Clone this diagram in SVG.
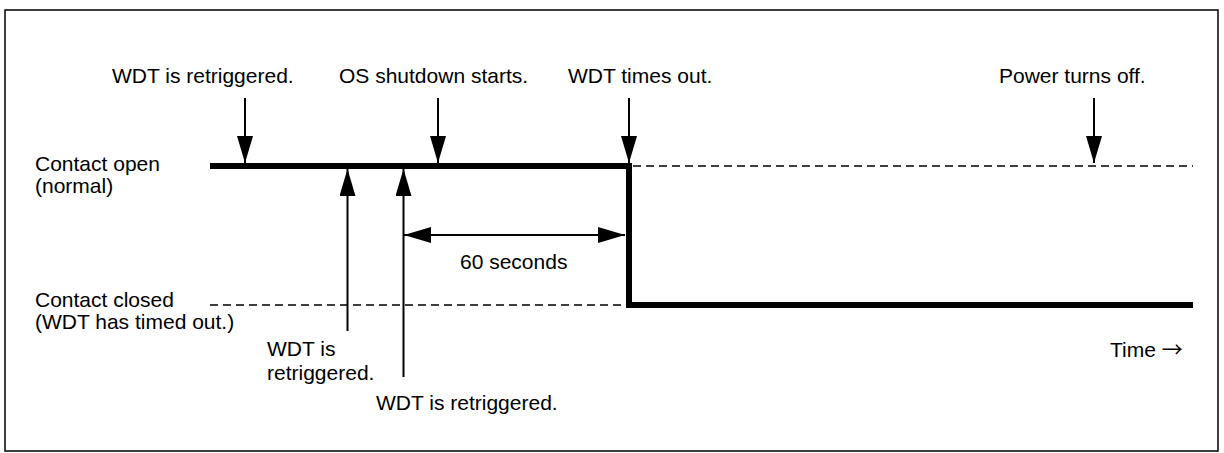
<svg xmlns="http://www.w3.org/2000/svg" width="1224" height="453" viewBox="0 0 1224 453">
<style>
  text { font-family: "Liberation Sans", Arial, sans-serif; font-size: 21px; fill: #000; }
  .thin { stroke: #000; stroke-width: 2; fill: none; }
  .dash { stroke: #000; stroke-width: 1.3; stroke-dasharray: 8 5; fill: none; }
  .thick { stroke: #000; stroke-width: 6; fill: none; stroke-linejoin: miter; }
</style>
<defs>
  <marker id="ah" markerUnits="userSpaceOnUse" markerWidth="27" markerHeight="16" refX="27" refY="8" orient="auto">
    <path d="M0,0 L27,8 L0,16 Z" fill="#000"/>
  </marker>
  <marker id="ahs" markerUnits="userSpaceOnUse" markerWidth="27" markerHeight="16" refX="27" refY="8" orient="auto-start-reverse">
    <path d="M0,0 L27,8 L0,16 Z" fill="#000"/>
  </marker>
</defs>
<rect x="5" y="10" width="1213" height="441" fill="#fff" stroke="#000" stroke-width="1.5"/>

<g id="labels">
  <text x="35" y="171">Contact open</text>
  <text x="35" y="193">(normal)</text>
  <text x="35" y="307">Contact closed</text>
  <text x="35" y="329">(WDT has timed out.)</text>
  <text x="1110" y="357">Time <tspan font-family="'Noto Sans CJK JP', sans-serif" font-size="21">→</tspan></text>
</g>

<g id="signal">
  <path class="thick" d="M210,166 H629 V305 H1193"/>
  <line class="dash" x1="633" y1="166" x2="1193" y2="166"/>
  <line class="dash" x1="210" y1="305" x2="626" y2="305"/>
</g>

<g id="n-retrigger1">
  <text x="112" y="83">WDT is retriggered.</text>
</g>
<g id="n-osshutdown">
  <text x="339" y="83">OS shutdown starts.</text>
</g>
<g id="n-timeout">
  <text x="568" y="83">WDT times out.</text>
</g>
<g id="n-poweroff">
  <text x="999" y="83">Power turns off.</text>
</g>
<g id="n-retrigger2">
  <text x="267" y="356">WDT is</text>
  <text x="267" y="380">retriggered.</text>
</g>
<g id="n-retrigger3">
  <text x="376" y="410">WDT is retriggered.</text>
</g>
<g id="n-60s">
  <text x="460" y="269">60 seconds</text>
</g>

<g id="connectors">
  <line class="thin" x1="245" y1="98" x2="245" y2="163" marker-end="url(#ah)"/>
  <line class="thin" x1="438" y1="98" x2="438" y2="163" marker-end="url(#ah)"/>
  <line class="thin" x1="629" y1="98" x2="629" y2="163" marker-end="url(#ah)"/>
  <line class="thin" x1="1094" y1="98" x2="1094" y2="163" marker-end="url(#ah)"/>
  <line class="thin" x1="347.5" y1="331" x2="347.5" y2="169" marker-end="url(#ah)"/>
  <line class="thin" x1="403.5" y1="377" x2="403.5" y2="169" marker-end="url(#ah)"/>
  <line class="thin" x1="404" y1="235" x2="625" y2="235" marker-start="url(#ahs)" marker-end="url(#ah)"/>
</g>
</svg>
